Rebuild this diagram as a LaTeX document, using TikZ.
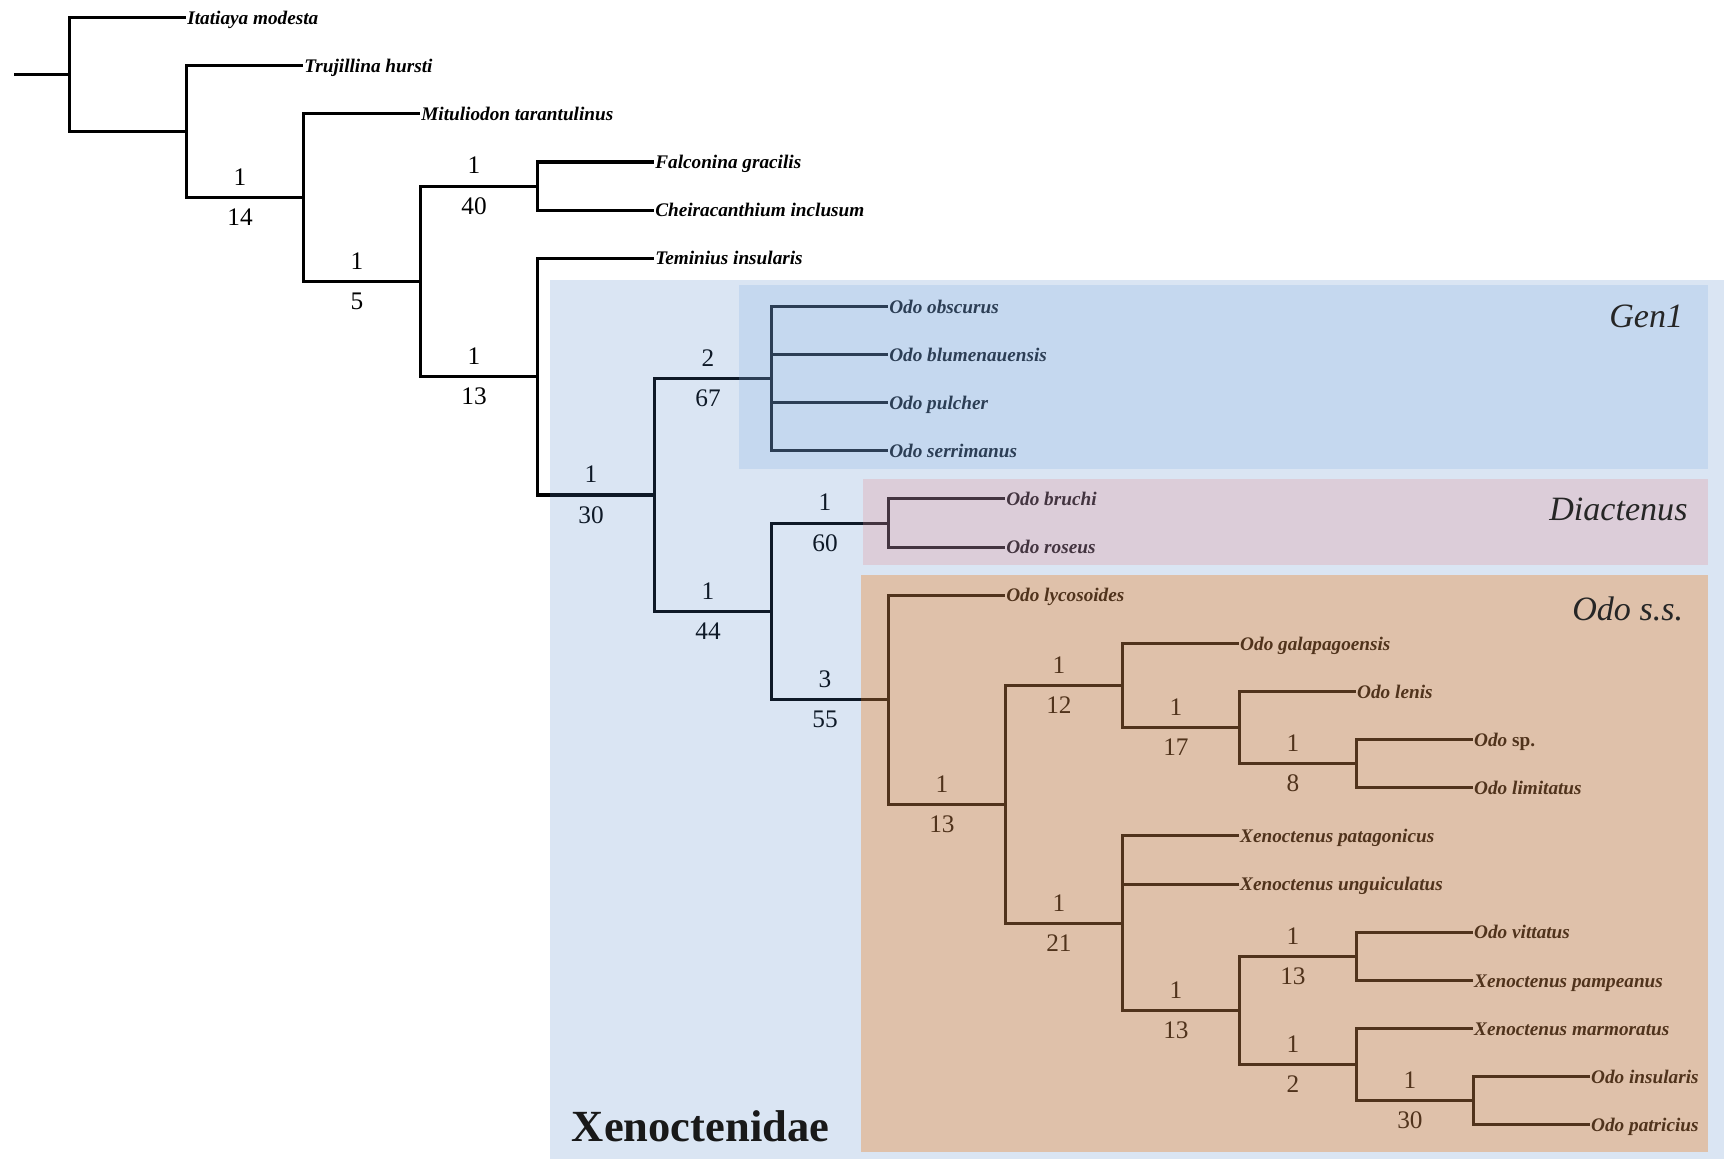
\documentclass[tikz,border=0pt]{standalone}
\usepackage{fontspec}
\setmainfont{Liberation Serif}
\usepackage{xcolor}
\usetikzlibrary{positioning}
\definecolor{xenoblue}{RGB}{70,125,195}
\definecolor{genblue}{RGB}{135,176,226}
\definecolor{diacpink}{RGB}{226,133,139}
\definecolor{odotan}{RGB}{235,112,3}

\begin{document}
\begin{tikzpicture}[
  x=1pt,y=-1pt,
  branch/.style={line width=2.75pt},
  taxon/.style={anchor=west,inner sep=0.8pt,text height=16.6pt,text depth=4.4pt,
                font=\fontsize{17.5}{18}\selectfont\bfseries\itshape},
  uplab/.style={anchor=base,inner sep=0pt,yshift=11pt,
                font=\fontsize{23}{24}\selectfont},
  lowlab/.style={anchor=base,inner sep=0pt,yshift=-25.5pt,
                 font=\fontsize{23}{24}\selectfont},
  clade/.style={anchor=base east,inner sep=0pt,text=black!85,
                font=\fontsize{31}{32}\selectfont\itshape},
  family/.style={anchor=base west,inner sep=0pt,text=black!90,
                 font=\fontsize{40.5}{42}\selectfont\bfseries},
  xenobox/.style={fill=xenoblue,fill opacity=0.2},
  genbox/.style={fill=genblue,fill opacity=0.25},
  diacbox/.style={fill=diacpink,fill opacity=0.25},
  odobox/.style={fill=odotan,fill opacity=0.3},
]
  \useasboundingbox (0,0) rectangle (1568,1054);

  % terminal taxa
  \node[taxon] (itat) at (169.4,16.00)   {Itatiaya modesta};
  \node[taxon] (truj) at (275.8,59.78)   {Trujillina hursti};
  \node[taxon] (mitu) at (382.2,103.56)  {Mituliodon tarantulinus};
  \node[taxon] (falc) at (595.0,147.34)  {Falconina gracilis};
  \node[taxon] (chei) at (595.0,191.12)  {Cheiracanthium inclusum};
  \node[taxon] (temi) at (595.0,234.90)  {Teminius insularis};
  \node[taxon] (obsc) at (807.8,278.68)  {Odo obscurus};
  \node[taxon] (blum) at (807.8,322.46)  {Odo blumenauensis};
  \node[taxon] (pulc) at (807.8,366.24)  {Odo pulcher};
  \node[taxon] (serr) at (807.8,410.02)  {Odo serrimanus};
  \node[taxon] (bruc) at (914.2,453.80)  {Odo bruchi};
  \node[taxon] (rose) at (914.2,497.58)  {Odo roseus};
  \node[taxon] (lyco) at (914.2,541.36)  {Odo lycosoides};
  \node[taxon] (gala) at (1127.0,585.14) {Odo galapagoensis};
  \node[taxon] (leni) at (1233.4,628.92) {Odo lenis};
  \node[taxon] (osp)  at (1339.8,672.70) {Odo \textup{sp.}};
  \node[taxon] (limi) at (1339.8,716.48) {Odo limitatus};
  \node[taxon] (pata) at (1127.0,760.26) {Xenoctenus patagonicus};
  \node[taxon] (ungu) at (1127.0,804.04) {Xenoctenus unguiculatus};
  \node[taxon] (vitt) at (1339.8,847.82) {Odo vittatus};
  \node[taxon] (pamp) at (1339.8,891.60) {Xenoctenus pampeanus};
  \node[taxon] (marm) at (1339.8,935.38) {Xenoctenus marmoratus};
  \node[taxon] (insu) at (1446.2,979.16) {Odo insularis};
  \node[taxon] (patr) at (1446.2,1022.94) {Odo patricius};

  % internal nodes
  \coordinate (base) at (13,67.88);
  \coordinate (root) at (63.0,67.88);
  \coordinate (n1)  at (169.4,119.76);
  \coordinate (n2)  at (275.8,179.73);
  \coordinate (n3)  at (382.2,255.90);
  \coordinate (nF)  at (488.6,169.23);
  \coordinate (n4)  at (488.6,342.56);
  \coordinate (n5)  at (595.0,450.21);
  \coordinate (nG)  at (701.4,344.35);
  \coordinate (n6)  at (701.4,556.07);
  \coordinate (nD)  at (807.8,475.69);
  \coordinate (nO)  at (807.8,636.45);
  \coordinate (n7)  at (914.2,731.53);
  \coordinate (n8)  at (1020.6,623.45);
  \coordinate (n9)  at (1127.0,661.76);
  \coordinate (n10) at (1233.4,694.59);
  \coordinate (n11) at (1020.6,839.61);
  \coordinate (n12) at (1127.0,918.96);
  \coordinate (n13) at (1233.4,869.71);
  \coordinate (n14) at (1233.4,968.20);
  \coordinate (n15) at (1339.8,1001.05);

  \draw[branch] (base) -- (root);
  \draw[branch] (root) |- (itat.west);
  \draw[branch] (root) |- (n1);
  \draw[branch] (n1) |- (truj.west);
  \draw[branch] (n1) |- (n2) node[pos=0.73,uplab] (u2) {1} node[pos=0.73,lowlab] (d2) {14};
  \draw[branch] (n2) |- (mitu.west);
  \draw[branch] (n2) |- (n3) node[pos=0.73,uplab] (u3) {1} node[pos=0.73,lowlab] (d3) {5};
  \draw[branch] (n3) |- (nF) node[pos=0.73,uplab] (uF) {1} node[pos=0.73,lowlab] (dF) {40};
  \draw[branch] (nF) |- (falc.west);
  \draw[branch] (nF) |- (chei.west);
  \draw[branch] (n3) |- (n4) node[pos=0.73,uplab] (u4) {1} node[pos=0.73,lowlab] (d4) {13};
  \draw[branch] (n4) |- (temi.west);
  \draw[branch] (n4) |- (n5) node[pos=0.73,uplab] (u5) {1} node[pos=0.73,lowlab] (d5) {30};
  \draw[branch] (n5) |- (nG) node[pos=0.73,uplab] (uG) {2} node[pos=0.73,lowlab] (dG) {67};
  \draw[branch] (nG) |- (obsc.west);
  \draw[branch] (nG) |- (blum.west);
  \draw[branch] (nG) |- (pulc.west);
  \draw[branch] (nG) |- (serr.west);
  \draw[branch] (n5) |- (n6) node[pos=0.73,uplab] (u6) {1} node[pos=0.73,lowlab] (d6) {44};
  \draw[branch] (n6) |- (nD) node[pos=0.73,uplab] (uD) {1} node[pos=0.73,lowlab] (dD) {60};
  \draw[branch] (nD) |- (bruc.west);
  \draw[branch] (nD) |- (rose.west);
  \draw[branch] (n6) |- (nO) node[pos=0.73,uplab] (uO) {3} node[pos=0.73,lowlab] (dO) {55};
  \draw[branch] (nO) |- (lyco.west);
  \draw[branch] (nO) |- (n7) node[pos=0.73,uplab] (u7) {1} node[pos=0.73,lowlab] (d7) {13};
  \draw[branch] (n7) |- (n8) node[pos=0.73,uplab] (u8) {1} node[pos=0.73,lowlab] (d8) {12};
  \draw[branch] (n8) |- (gala.west);
  \draw[branch] (n8) |- (n9) node[pos=0.73,uplab] (u9) {1} node[pos=0.73,lowlab] (d9) {17};
  \draw[branch] (n9) |- (leni.west);
  \draw[branch] (n9) |- (n10) node[pos=0.73,uplab] (u10) {1} node[pos=0.73,lowlab] (d10) {8};
  \draw[branch] (n10) |- (osp.west);
  \draw[branch] (n10) |- (limi.west);
  \draw[branch] (n7) |- (n11) node[pos=0.73,uplab] (u11) {1} node[pos=0.73,lowlab] (d11) {21};
  \draw[branch] (n11) |- (pata.west);
  \draw[branch] (n11) |- (ungu.west);
  \draw[branch] (n11) |- (n12) node[pos=0.73,uplab] (u12) {1} node[pos=0.73,lowlab] (d12) {13};
  \draw[branch] (n12) |- (n13) node[pos=0.73,uplab] (u13) {1} node[pos=0.73,lowlab] (d13) {13};
  \draw[branch] (n13) |- (vitt.west);
  \draw[branch] (n13) |- (pamp.west);
  \draw[branch] (n12) |- (n14) node[pos=0.73,uplab] (u14) {1} node[pos=0.73,lowlab] (d14) {2};
  \draw[branch] (n14) |- (marm.west);
  \draw[branch] (n14) |- (n15) node[pos=0.73,uplab] (u15) {1} node[pos=0.73,lowlab] (d15) {30};
  \draw[branch] (n15) |- (insu.west);
  \draw[branch] (n15) |- (patr.west);

  % clade boxes
  \fill[xenobox] (500,255) rectangle (1568,1054);
  \fill[genbox]  (672,259) rectangle (1553,426.6);
  \fill[diacbox] (785,435.7) rectangle (1553,514);
  \fill[odobox]  (783,523) rectangle (1553,1047.5);

  \node[clade] (gen1)  at (1531,297.5) {Gen1};
  \node[clade] (diac)  at (1535,473)   {Diactenus};
  \node[clade] (odoss) at (1531,564)   {Odo s.s.};
  \node[family] (xeno) at (520,1038)   {Xenoctenidae};
\end{tikzpicture}
\end{document}
